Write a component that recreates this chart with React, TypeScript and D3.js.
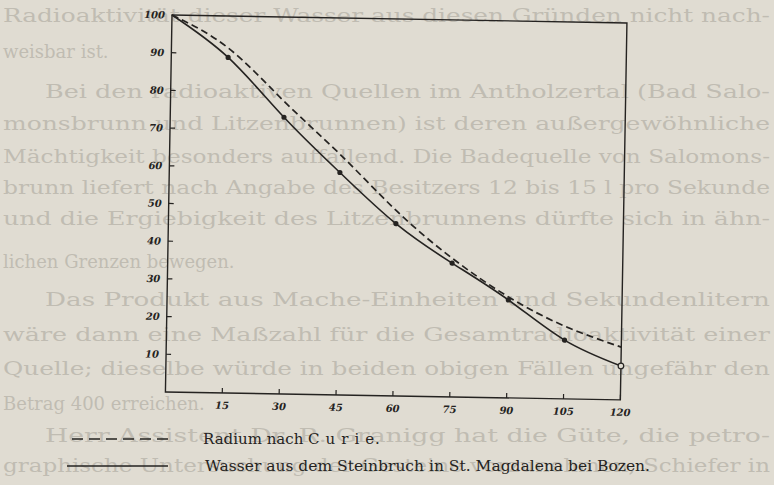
import React from 'react';
import * as d3 from 'd3';

// minutes (Abszisse) and percentage of initial activity (Ordinate)
const minutes = [0, 15, 30, 45, 60, 75, 90, 105, 120];
const radiumCurie = [100, 91.5, 77.6, 63.8, 49.2, 36.8, 26.8, 19.3, 14];
const wasserMagdalena = [100, 89, 73.4, 59, 45.7, 35.5, 26, 15.6, 9];

const xTicks = [15, 30, 45, 60, 75, 90, 105, 120];
const yTicks = [10, 20, 30, 40, 50, 60, 70, 80, 90, 100];

const legendLabels = ['Radium nach ', 'Curie', '.'];
const legendLabel2 = 'Wasser aus dem Steinbruch in St. Magdalena bei Bozen.';

// text of the page shining through the paper
const ghostLines = [
  'Radioaktivität dieser Wasser aus diesen Gründen nicht nach-',
  'weisbar ist.',
  'Bei den radioaktiven Quellen im Antholzertal (Bad Salo-',
  'monsbrunn und Litzenbrunnen) ist deren außergewöhnliche',
  'Mächtigkeit besonders auffallend. Die Badequelle von Salomons-',
  'brunn liefert nach Angabe des Besitzers 12 bis 15 l pro Sekunde',
  'und die Ergiebigkeit des Litzenbrunnens dürfte sich in ähn-',
  'lichen Grenzen bewegen.',
  'Das Produkt aus Mache-Einheiten und Sekundenlitern',
  'wäre dann eine Maßzahl für die Gesamtradioaktivität einer',
  'Quelle; dieselbe würde in beiden obigen Fällen ungefähr den',
  'Betrag 400 erreichen.',
  'Herr Assistent Dr. R. Granigg hat die Güte, die petro-',
  'graphische Untersuchung der Gesteine vorzunehmen, Schiefer in',
];
const ghostY = [22, 58, 98, 130, 163, 194, 225, 268, 306, 341, 375, 410, 442, 472];
const ghostIndent = [0, 0, 1, 0, 0, 0, 0, 0, 1, 0, 0, 0, 1, 0];
const ghostShort = [false, true, false, false, false, false, false, true, false, false, false, true, false, false];

const W = 455;
const H = 377;
const ink = '#252321';
const paper = '#e0dcd2';
const ghostInk = '#c0bcb2';

export default function App() {
  const x = d3.scaleLinear().domain([0, 120]).range([0, W]);
  const y = d3.scaleLinear().domain([0, 100]).range([H, 0]);

  const line = d3
    .line<number>()
    .x((_, i) => x(minutes[i]))
    .y((d) => y(d))
    .curve(d3.curveNatural);

  const labelFont = { fontFamily: 'DejaVu Serif', fontStyle: 'italic', fontWeight: 700, fontSize: 10 } as const;

  return (
    <svg width={774} height={485} style={{ position: 'absolute', left: 0, top: 0, background: paper }}>
      <rect width={774} height={485} fill={paper} />

      {/* ghost text */}
      {ghostLines.map((t, i) => {
        const x0 = ghostIndent[i] ? 45 : 3;
        return (
          <text
            key={i}
            x={x0}
            y={ghostY[i]}
            fill={ghostInk}
            fontFamily="DejaVu Serif"
            fontSize={18}
            {...(ghostShort[i] ? {} : { textLength: 770 - x0, lengthAdjust: 'spacingAndGlyphs' })}
          >
            {t}
          </text>
        );
      })}

      <g transform="translate(172,15) rotate(1.0)">
        <rect x={0} y={0} width={W} height={H} fill="none" stroke={ink} strokeWidth={1.4} />

        {xTicks.map((t) => (
          <g key={t} transform={`translate(${x(t)},${H})`}>
            <line y1={0} y2={-5} stroke={ink} strokeWidth={1.2} />
            <text y={16} textAnchor="middle" fill={ink} style={labelFont}>{t}</text>
          </g>
        ))}

        {yTicks.map((t) => (
          <g key={t} transform={`translate(0,${y(t)})`}>
            {t < 100 && <line x1={0} x2={5} stroke={ink} strokeWidth={1.2} />}
            <text x={-7} dy="0.35em" textAnchor="end" fill={ink} style={labelFont}>{t}</text>
          </g>
        ))}

        <path d={line(radiumCurie) || ''} fill="none" stroke={ink} strokeWidth={1.7} strokeDasharray="7,4" />
        <path d={line(wasserMagdalena) || ''} fill="none" stroke={ink} strokeWidth={1.6} />

        {wasserMagdalena.map((v, i) =>
          i === 0 ? null : i === minutes.length - 1 ? (
            <circle key={i} cx={x(minutes[i])} cy={y(v)} r={2.8} fill={paper} stroke={ink} strokeWidth={1.2} />
          ) : (
            <circle key={i} cx={x(minutes[i])} cy={y(v)} r={2.6} fill={ink} />
          )
        )}
      </g>

      {/* legend */}
      <line x1={72} x2={168} y1={439} y2={439} stroke={ink} strokeWidth={1.7} strokeDasharray="11,6" />
      <text x={203} y={444} fill={ink} fontFamily="DejaVu Serif" fontSize={15}>
        {legendLabels[0]}
        <tspan letterSpacing={6}>{legendLabels[1]}</tspan>
        <tspan dx={-5}>{legendLabels[2]}</tspan>
      </text>
      <line x1={67} x2={168} y1={466} y2={466} stroke={ink} strokeWidth={1.6} />
      <text x={205} y={471} fill={ink} fontFamily="DejaVu Serif" fontSize={15} textLength={445} lengthAdjust="spacingAndGlyphs">
        {legendLabel2}
      </text>
    </svg>
  );
}
